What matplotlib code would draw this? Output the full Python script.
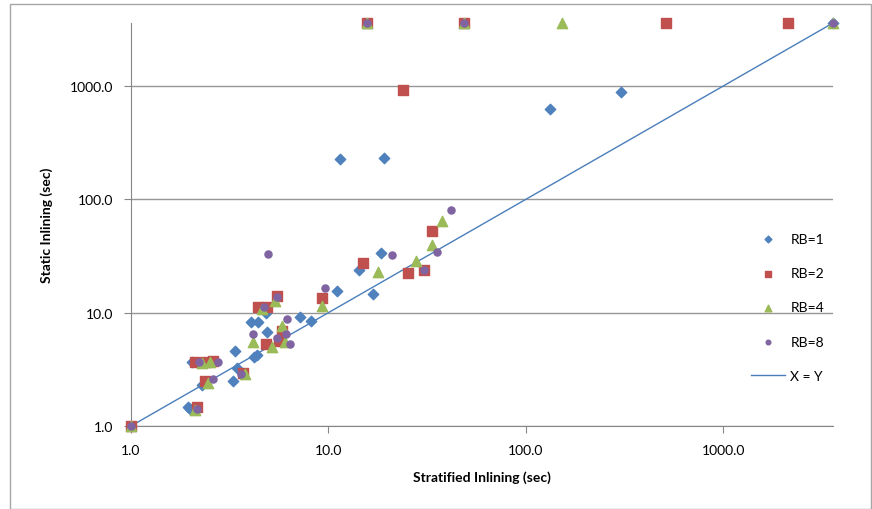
import matplotlib.pyplot as plt
from matplotlib.ticker import FixedLocator, FuncFormatter, NullLocator
from matplotlib.patches import Rectangle

plt.rcParams['font.family'] = ['Lato', 'DejaVu Sans']

# stratified (x) vs static (y) inlining times, seconds
rb1_x = [1.0, 1.95, 2.0, 2.3, 3.3, 3.45, 3.37, 2.03, 4.2, 4.35, 4.88, 4.05, 4.4, 7.15, 8.2,
         4.82, 5.65, 11.1, 16.8, 14.3, 18.5, 11.5, 19.1, 133, 304, 3600]
rb1_y = [1.0, 1.47, 1.40, 2.3, 2.5, 3.25, 4.6, 3.67, 4.06, 4.2, 6.76, 8.3, 8.3, 9.2, 8.4,
         10.0, 5.9, 15.6, 14.6, 23.8, 33.6, 227, 232, 628, 887, 3600]

rb2_x = [1.0, 2.15, 2.1, 2.4, 2.6, 3.7, 2.38, 4.4, 4.9, 5.5, 4.85, 5.85, 5.6, 9.33, 15.0,
         25.2, 30.4, 33.3, 23.8, 15.7, 48.8, 511, 2123]
rb2_y = [1.0, 1.47, 3.7, 3.7, 3.75, 2.94, 2.5, 11.2, 11.2, 14.0, 5.3, 6.9, 5.6, 13.5, 27.5,
         22.4, 23.8, 52.6, 924, 3600, 3600, 3600, 3600]

rb4_x = [1.0, 2.1, 2.45, 2.5, 2.3, 3.8, 4.6, 5.35, 4.15, 5.2, 5.85, 6.0, 9.33, 17.8, 27.7,
         33.3, 37.8, 15.7, 48.8, 153, 3600]
rb4_y = [1.0, 1.38, 2.4, 3.65, 3.6, 2.9, 10.8, 12.7, 5.5, 5.0, 7.6, 5.5, 11.5, 22.9, 28.6,
         39.6, 64.5, 3600, 3600, 3600, 3600]

rb8_x = [1.0, 2.15, 2.2, 2.75, 2.61, 3.6, 4.7, 5.5, 4.15, 5.5, 6.1, 6.4, 6.15, 4.95, 9.66,
         21.0, 30.4, 35.3, 42.0, 15.7, 48.8, 3600]
rb8_y = [1.0, 1.42, 3.65, 3.7, 2.6, 2.9, 11.2, 13.7, 6.5, 6.0, 6.5, 5.3, 8.8, 33.0, 16.5,
         32.3, 23.8, 34.3, 80.6, 3600, 3600, 3600]

diag = [1.0, 3600]
ticks = [1, 10, 100, 1000]

fig = plt.figure(figsize=(8.72, 5.10), dpi=100)
fig.patches.append(Rectangle((10 / 872, 0), 861 / 872, 505 / 510, transform=fig.transFigure,
                             fill=False, edgecolor='#a6a6a6', lw=1))
ax = fig.add_axes([131 / 872, 83 / 510, 702 / 872, 403 / 510])

ax.scatter(rb1_x, rb1_y, marker='D', s=28, color='#4f81bd', label='RB=1', zorder=3, clip_on=False)
ax.scatter(rb2_x, rb2_y, marker='s', s=50, color='#c0504d', label='RB=2', zorder=3, clip_on=False)
ax.scatter(rb4_x, rb4_y, marker='^', s=55, color='#9bbb59', label='RB=4', zorder=3, clip_on=False)
ax.scatter(rb8_x, rb8_y, marker='o', s=26, color='#8064a2', label='RB=8', zorder=3, clip_on=False)
ax.plot(diag, diag, color='#4a7ebb', lw=1, label='X = Y', zorder=2)

ax.set_xscale('log')
ax.set_yscale('log')
ax.set_xlim(1, 3600)
ax.set_ylim(1, 3600)
fmt = FuncFormatter(lambda v, p: '%.1f' % v)
for a in (ax.xaxis, ax.yaxis):
    a.set_major_locator(FixedLocator(ticks))
    a.set_minor_locator(NullLocator())
    a.set_major_formatter(fmt)
ax.tick_params(length=5, color='#868686', labelsize=10, pad=8)
ax.grid(axis='y', color='#969696', lw=1)
ax.set_axisbelow(True)
for s in ('top', 'right'):
    ax.spines[s].set_visible(False)
for s in ('left', 'bottom'):
    ax.spines[s].set_color('#868686')

ax.set_xlabel('Stratified Inlining (sec)', fontsize=10, fontweight='bold', labelpad=10)
ax.set_ylabel('Static Inlining (sec)', fontsize=10, fontweight='bold', labelpad=12)

ax.legend(loc='upper left', bbox_to_anchor=(0.866, 0.51), frameon=False, fontsize=10,
          labelspacing=1.6, handlelength=2.4, handletextpad=0.4, markerscale=0.65)

fig.savefig('out.png', dpi=100)
